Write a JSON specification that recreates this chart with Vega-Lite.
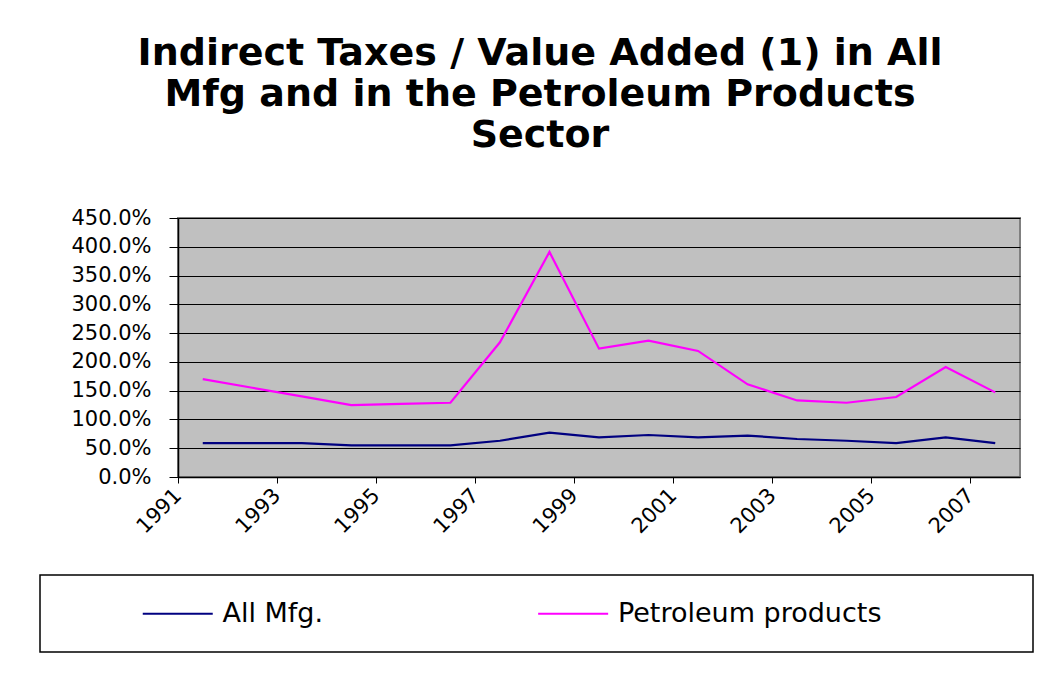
{
  "$schema": "https://vega.github.io/schema/vega-lite/v6.json",
  "width": 842,
  "height": 259,
  "autosize": {"type": "none"},
  "padding": {"left": 178, "top": 218, "right": 31, "bottom": 209},
  "background": "white",
  "title": {
    "text": ["Indirect Taxes / Value Added (1) in All", "Mfg and in the Petroleum Products", "Sector"],
    "font": "DejaVu Sans",
    "fontSize": 38,
    "fontWeight": "bold",
    "lineHeight": 41,
    "color": "black",
    "anchor": "middle",
    "dx": -59,
    "offset": 52
  },
  "data": {
    "values": [
      {"year": 1991, "series": "All Mfg.", "value": 0.59},
      {"year": 1992, "series": "All Mfg.", "value": 0.59},
      {"year": 1993, "series": "All Mfg.", "value": 0.59},
      {"year": 1994, "series": "All Mfg.", "value": 0.55},
      {"year": 1995, "series": "All Mfg.", "value": 0.55},
      {"year": 1996, "series": "All Mfg.", "value": 0.55},
      {"year": 1997, "series": "All Mfg.", "value": 0.63},
      {"year": 1998, "series": "All Mfg.", "value": 0.77},
      {"year": 1999, "series": "All Mfg.", "value": 0.69},
      {"year": 2000, "series": "All Mfg.", "value": 0.73},
      {"year": 2001, "series": "All Mfg.", "value": 0.69},
      {"year": 2002, "series": "All Mfg.", "value": 0.72},
      {"year": 2003, "series": "All Mfg.", "value": 0.66},
      {"year": 2004, "series": "All Mfg.", "value": 0.63},
      {"year": 2005, "series": "All Mfg.", "value": 0.59},
      {"year": 2006, "series": "All Mfg.", "value": 0.69},
      {"year": 2007, "series": "All Mfg.", "value": 0.59},
      {"year": 1991, "series": "Petroleum products", "value": 1.70},
      {"year": 1992, "series": "Petroleum products", "value": 1.55},
      {"year": 1993, "series": "Petroleum products", "value": 1.40},
      {"year": 1994, "series": "Petroleum products", "value": 1.25},
      {"year": 1995, "series": "Petroleum products", "value": 1.27},
      {"year": 1996, "series": "Petroleum products", "value": 1.29},
      {"year": 1997, "series": "Petroleum products", "value": 2.34},
      {"year": 1998, "series": "Petroleum products", "value": 3.91},
      {"year": 1999, "series": "Petroleum products", "value": 2.23},
      {"year": 2000, "series": "Petroleum products", "value": 2.37},
      {"year": 2001, "series": "Petroleum products", "value": 2.19},
      {"year": 2002, "series": "Petroleum products", "value": 1.61},
      {"year": 2003, "series": "Petroleum products", "value": 1.33},
      {"year": 2004, "series": "Petroleum products", "value": 1.29},
      {"year": 2005, "series": "Petroleum products", "value": 1.39},
      {"year": 2006, "series": "Petroleum products", "value": 1.91},
      {"year": 2007, "series": "Petroleum products", "value": 1.47}
    ]
  },
  "mark": {"type": "line", "strokeWidth": 2.2},
  "encoding": {
    "x": {
      "field": "year",
      "type": "quantitative",
      "scale": {"domain": [1990.5, 2007.5], "nice": false, "zero": false},
      "axis": {
        "title": null,
        "grid": false,
        "values": [1990.5, 1992.5, 1994.5, 1996.5, 1998.5, 2000.5, 2002.5, 2004.5, 2006.5],
        "labelExpr": "format(datum.value + 0.5, 'd')",
        "labelAngle": -45,
        "labelAlign": "right",
        "labelBaseline": "middle",
        "labelFont": "DejaVu Sans",
        "labelFontSize": 21,
        "labelColor": "black",
        "labelOverlap": false,
        "labelPadding": 9,
        "tickColor": "black",
        "tickSize": 6,
        "domainColor": "black",
        "domainWidth": 1.5
      }
    },
    "y": {
      "field": "value",
      "type": "quantitative",
      "scale": {"domain": [0, 4.5], "nice": false},
      "axis": {
        "title": null,
        "values": [0, 0.5, 1, 1.5, 2, 2.5, 3, 3.5, 4, 4.5],
        "format": ".1%",
        "grid": true,
        "gridColor": "black",
        "gridOpacity": 1,
        "gridWidth": 1,
        "labelFont": "DejaVu Sans",
        "labelFontSize": 21,
        "labelColor": "black",
        "labelOverlap": false,
        "labelPadding": 18,
        "tickColor": "black",
        "tickSize": 9,
        "domainColor": "black",
        "domainWidth": 1.5
      }
    },
    "color": {
      "field": "series",
      "type": "nominal",
      "scale": {"domain": ["All Mfg.", "Petroleum products"], "range": ["#000080", "#FF00FF"]},
      "legend": {
        "orient": "none",
        "legendX": -138,
        "legendY": 357,
        "direction": "horizontal",
        "title": " ",
        "titleOrient": "right",
        "titleFontSize": 27,
        "titleFont": "DejaVu Sans",
        "titlePadding": 127,
        "symbolType": "M-4,0H4",
        "symbolSize": 306.25,
        "symbolOffset": 99.25,
        "symbolStrokeWidth": 2.2,
        "labelFont": "DejaVu Sans",
        "labelFontSize": 27,
        "labelColor": "black",
        "labelOffset": 31.25,
        "labelLimit": 600,
        "columnPadding": 136.4,
        "padding": 25,
        "strokeColor": "black",
        "fillColor": "white",
        "cornerRadius": 0
      }
    }
  },
  "config": {
    "view": {"fill": "#C0C0C0", "stroke": "#808080", "strokeWidth": 2},
    "legend": {"strokeWidth": 1.5}
  }
}
